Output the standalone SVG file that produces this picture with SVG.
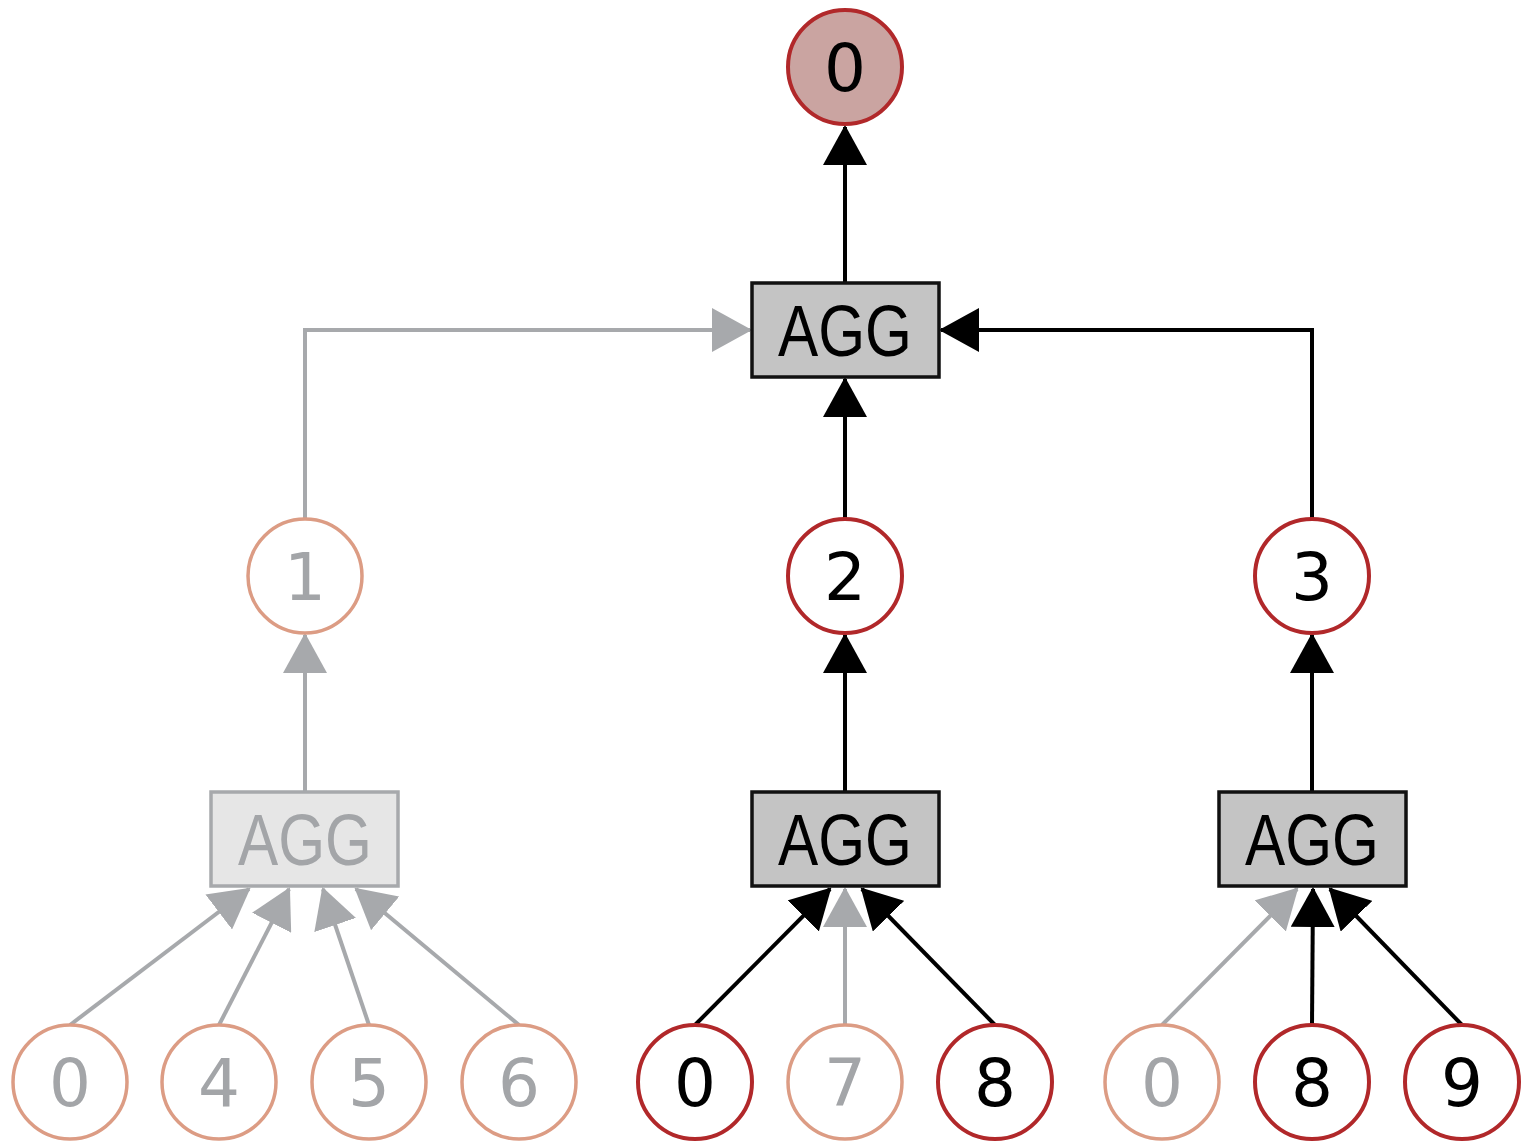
<svg xmlns="http://www.w3.org/2000/svg" width="1528" height="1146" viewBox="0 0 1528 1146">
<style>
.bg{fill:#ffffff}
.c-dark{fill:#ffffff;stroke:#b1282a;stroke-width:4}
.c-light{fill:#ffffff;stroke:#dc9c84;stroke-width:3.5}
.c-root{fill:#caa4a1;stroke:#b1282a;stroke-width:4}
.box{fill:#c4c4c4;stroke:#111111;stroke-width:3.5}
.box-light{fill:#e6e6e6;stroke:#a7a9ac;stroke-width:3.5}
.num{font-family:"DejaVu Sans","Liberation Sans",sans-serif;font-size:66px;text-anchor:middle;fill:#000000}
.num-g{fill:#a3a5a8}
.agg{font-family:"Liberation Sans","Arial",sans-serif;font-size:72px;text-anchor:middle;fill:#000000}
.agg-g{fill:#a3a5a8}
.e-black{fill:none;stroke:#000000;stroke-width:4;marker-end:url(#ah-black)}
.e-gray{fill:none;stroke:#a7a9ac;stroke-width:4;marker-end:url(#ah-gray)}
</style>
<defs>
<marker id="ah-black" markerUnits="userSpaceOnUse" viewBox="0 0 40 44" markerWidth="40" markerHeight="44" refX="38" refY="22" orient="auto">
<path d="M0,0 L40,22 L0,44 Z" fill="#000000"/>
</marker>
<marker id="ah-gray" markerUnits="userSpaceOnUse" viewBox="0 0 40 44" markerWidth="40" markerHeight="44" refX="38" refY="22" orient="auto">
<path d="M0,0 L40,22 L0,44 Z" fill="#a7a9ac"/>
</marker>
</defs>
<rect class="bg" x="0" y="0" width="1528" height="1146"/>

<g id="connectors">
<path class="e-black" d="M845,283 L845,127"/>
<path class="e-black" d="M845,519 L845,379"/>
<path class="e-gray" d="M305,519 L305,330 L750,330"/>
<path class="e-black" d="M1312,519 L1312,330 L941,330"/>
<path class="e-gray" d="M305,792 L305,635"/>
<path class="e-black" d="M845,792 L845,635"/>
<path class="e-black" d="M1312,792 L1312,635"/>
<path class="e-gray" d="M70,1025 L249,889"/>
<path class="e-gray" d="M219,1025 L289,889"/>
<path class="e-gray" d="M369,1025 L323,889"/>
<path class="e-gray" d="M519,1025 L356,889"/>
<path class="e-gray" d="M845,1025 L845,889"/>
<path class="e-black" d="M695,1025 L830,889"/>
<path class="e-black" d="M995,1025 L862,889"/>
<path class="e-gray" d="M1162,1025 L1297,889"/>
<path class="e-black" d="M1312,1025 L1313,889"/>
<path class="e-black" d="M1462,1025 L1330,889"/>
</g>

<g id="n-root"><circle class="c-root" cx="845" cy="67" r="57"/><text class="num" x="845" y="91">0</text></g>
<g id="agg-top"><rect class="box" x="752" y="283" width="187" height="94"/><text class="agg" x="845" y="356" textLength="134" lengthAdjust="spacingAndGlyphs">AGG</text></g>

<g id="n-1"><circle class="c-light" cx="305" cy="576" r="57"/><text class="num num-g" x="305" y="600">1</text></g>
<g id="n-2"><circle class="c-dark" cx="845" cy="576" r="57"/><text class="num" x="845" y="600">2</text></g>
<g id="n-3"><circle class="c-dark" cx="1312" cy="576" r="57"/><text class="num" x="1312" y="600">3</text></g>

<g id="agg-1"><rect class="box-light" x="211" y="792" width="187" height="94"/><text class="agg agg-g" x="305" y="865" textLength="134" lengthAdjust="spacingAndGlyphs">AGG</text></g>
<g id="agg-2"><rect class="box" x="752" y="792" width="187" height="94"/><text class="agg" x="845" y="865" textLength="134" lengthAdjust="spacingAndGlyphs">AGG</text></g>
<g id="agg-3"><rect class="box" x="1219" y="792" width="187" height="94"/><text class="agg" x="1312" y="865" textLength="134" lengthAdjust="spacingAndGlyphs">AGG</text></g>

<g id="n-1-0"><circle class="c-light" cx="70" cy="1082" r="57"/><text class="num num-g" x="70" y="1106">0</text></g>
<g id="n-1-4"><circle class="c-light" cx="219" cy="1082" r="57"/><text class="num num-g" x="219" y="1106">4</text></g>
<g id="n-1-5"><circle class="c-light" cx="369" cy="1082" r="57"/><text class="num num-g" x="369" y="1106">5</text></g>
<g id="n-1-6"><circle class="c-light" cx="519" cy="1082" r="57"/><text class="num num-g" x="519" y="1106">6</text></g>

<g id="n-2-0"><circle class="c-dark" cx="695" cy="1082" r="57"/><text class="num" x="695" y="1106">0</text></g>
<g id="n-2-7"><circle class="c-light" cx="845" cy="1082" r="57"/><text class="num num-g" x="845" y="1106">7</text></g>
<g id="n-2-8"><circle class="c-dark" cx="995" cy="1082" r="57"/><text class="num" x="995" y="1106">8</text></g>

<g id="n-3-0"><circle class="c-light" cx="1162" cy="1082" r="57"/><text class="num num-g" x="1162" y="1106">0</text></g>
<g id="n-3-8"><circle class="c-dark" cx="1312" cy="1082" r="57"/><text class="num" x="1312" y="1106">8</text></g>
<g id="n-3-9"><circle class="c-dark" cx="1462" cy="1082" r="57"/><text class="num" x="1462" y="1106">9</text></g>
</svg>
